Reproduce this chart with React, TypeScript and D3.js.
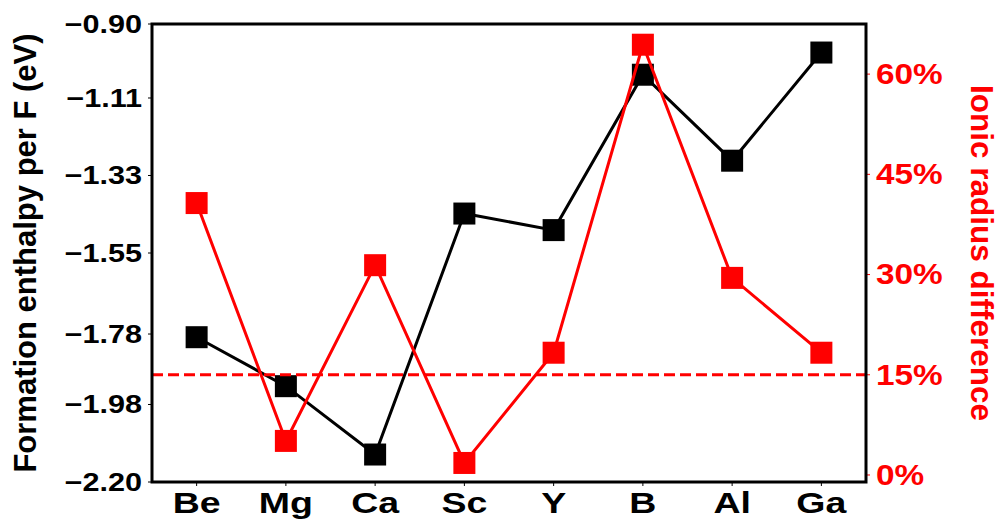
import React from 'react';
import * as d3 from 'd3';

// dopants on the x axis
const categories = ['Be', 'Mg', 'Ca', 'Sc', 'Y', 'B', 'Al', 'Ga'];
// formation enthalpy per F (eV), left axis
const enthalpy = [-1.789, -1.928, -2.122, -1.438, -1.485, -1.044, -1.288, -0.981];
// ionic radius difference (%), right axis
const radiusDiff = [40.7, 5.1, 31.4, 1.8, 18.3, 64.4, 29.5, 18.3];
const leftTicks = [-2.2, -1.98, -1.78, -1.55, -1.33, -1.11, -0.9];
const rightTicks = [0, 15, 30, 45, 60];
const threshold = 15;

const W = 1000;
const H = 523;
const margin = { top: 24, right: 134, bottom: 41, left: 152 };
const RED = '#ff0000';
const FONT = '"Liberation Sans", Arial, sans-serif';
const SX = 1.2; // labels in the source are a bit wider than Arial

const App = () => {
  const innerW = W - margin.left - margin.right;
  const innerH = H - margin.top - margin.bottom;

  const x = d3.scalePoint<string>().domain(categories).range([0, innerW]).padding(0.5);
  const yL = d3.scaleLinear().domain([-2.2, -0.9]).range([innerH, 0]);
  const yR = d3.scaleLinear().domain([-1.05, 67.5]).range([innerH, 0]);

  const lineL = d3.line<number>()
    .x((_, i) => x(categories[i]) as number)
    .y(d => yL(d));
  const lineR = d3.line<number>()
    .x((_, i) => x(categories[i]) as number)
    .y(d => yR(d));

  const m = 22; // marker side

  return (
    <svg width={W} height={H} style={{ position: 'absolute', left: 0, top: 0, background: '#fff' }}
      fontFamily={FONT} fontWeight="bold">
      <g transform={`translate(${margin.left},${margin.top})`}>
        {/* left ticks */}
        {leftTicks.map(t => (
          <g key={'l' + t}>
            <line x1={-4} x2={0} y1={yL(t)} y2={yL(t)} stroke="#000" strokeWidth={1} />
            <text transform={`translate(-10,${yL(t)}) scale(${SX},1)`} textAnchor="end"
              dominantBaseline="central" fontSize={25.5}>
              {'\u2212' + Math.abs(t).toFixed(2)}
            </text>
          </g>
        ))}
        {/* right ticks */}
        {rightTicks.map(t => (
          <g key={'r' + t}>
            <line x1={innerW} x2={innerW + 4} y1={yR(t)} y2={yR(t)} stroke={RED} strokeWidth={1} />
            <text transform={`translate(${innerW + 10},${yR(t)}) scale(1.15,1)`} textAnchor="start"
              dominantBaseline="central" fontSize={29} fill={RED}>
              {t + '%'}
            </text>
          </g>
        ))}
        {/* x ticks */}
        {categories.map(c => (
          <g key={c}>
            <line x1={x(c)} x2={x(c)} y1={innerH} y2={innerH + 4} stroke="#000" strokeWidth={1} />
            <text transform={`translate(${x(c)},${innerH + 31}) scale(1.25,1)`} textAnchor="middle"
              fontSize={30}>
              {c}
            </text>
          </g>
        ))}

        {/* enthalpy series */}
        <path d={lineL(enthalpy) as string} fill="none" stroke="#000" strokeWidth={3} />
        {enthalpy.map((v, i) => (
          <rect key={'bm' + i} x={(x(categories[i]) as number) - m / 2} y={yL(v) - m / 2}
            width={m} height={m} fill="#000" />
        ))}

        {/* radius difference series */}
        <path d={lineR(radiusDiff) as string} fill="none" stroke={RED} strokeWidth={3} />
        {radiusDiff.map((v, i) => (
          <rect key={'rm' + i} x={(x(categories[i]) as number) - m / 2} y={yR(v) - m / 2}
            width={m} height={m} fill={RED} />
        ))}

        <line x1={0} x2={innerW} y1={yR(threshold)} y2={yR(threshold)} stroke={RED}
          strokeWidth={3} strokeDasharray="11,5" />

        <rect x={0} y={0} width={innerW} height={innerH} fill="none" stroke="#000" strokeWidth={3} />
      </g>

      <text transform={`translate(36,${margin.top + innerH / 2}) rotate(-90)`} textAnchor="middle"
        fontSize={31}>
        Formation enthalpy per F (eV)
      </text>
      <text transform={`translate(971,${margin.top + innerH / 2}) rotate(90)`} textAnchor="middle"
        fontSize={31.5} fill={RED}>
        Ionic radius difference
      </text>
    </svg>
  );
};

export default App;
